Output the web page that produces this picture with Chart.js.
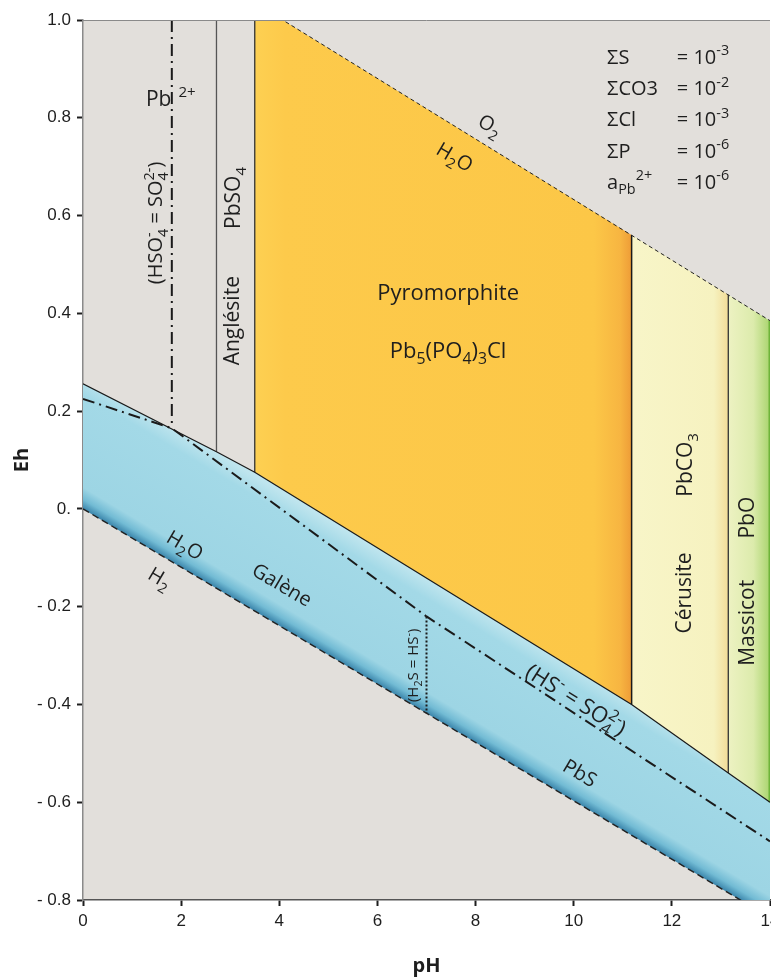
<!DOCTYPE html>
<html>
<head>
<meta charset="utf-8">
<script src="https://cdn.jsdelivr.net/npm/chart.js@4.4.0/dist/chart.umd.min.js"></script>
<style>
  html, body { margin: 0; padding: 0; background: #fff; }
  #wrap { width: 771px; height: 979px; }
</style>
</head>
<body>
<div id="wrap"><canvas id="pourbaix" width="771" height="979"></canvas></div>
<script>
// Axis ticks
const phTicks = [0, 2, 4, 6, 8, 10, 12, 14];
const ehTicks = [-0.8, -0.6, -0.4, -0.2, 0, 0.2, 0.4, 0.6, 0.8, 1.0];
const ehTickLabels = ['- 0.8', '- 0.6', '- 0.4', '- 0.2', '0.', '0.2', '0.4', '0.6', '0.8', '1.0'];

// Water stability limits
const o2PH = [0, 14];
const o2Eh = [1.252, 0.385];
const h2PH = [0, 14];
const h2Eh = [0, -0.836];

// Upper limit of galena (PbS)
const galenaPH = [0, 2.72, 3.5, 11.18, 13.15, 14];
const galenaEh = [0.256, 0.117, 0.075, -0.40, -0.54, -0.60];

// Stability fields
const pyroPH = [3.5, 3.5, 11.18, 11.18];
const pyroEh = [0.075, 1.035, 0.560, -0.40];
const cerusPH = [11.18, 11.18, 13.15, 13.15];
const cerusEh = [-0.40, 0.560, 0.438, -0.54];
const massPH = [13.15, 13.15, 14, 14];
const massEh = [-0.54, 0.438, 0.385, -0.60];

// Vertical boundaries
const angLeftPH = [2.72, 2.72];
const angLeftEh = [1.0, 0.117];
const angRightPH = [3.5, 3.5];
const angRightEh = [1.0, 0.075];
const cerusLinePH = [11.18, 11.18];
const cerusLineEh = [0.560, -0.40];
const massLinePH = [13.15, 13.15];
const massLineEh = [0.438, -0.54];
const edgePH = [14, 14];
const edgeEh = [0.385, -0.60];

// Sulfur species boundaries
const hso4PH = [1.81, 1.81];
const hso4Eh = [1.0, 0.175];
const sulfPH = [0, 1.81, 7.0, 14];
const sulfEh = [0.225, 0.165, -0.22, -0.68];
const h2sPH = [7.0, 7.0];
const h2sEh = [-0.22, -0.418];

// Conditions box
const sumLabels = ['\u03A3S', '\u03A3CO3', '\u03A3Cl', '\u03A3P', 'a_{Pb}\u200b^{2+}'];
const sumValues = ['= 10^{-3}', '= 10^{-2}', '= 10^{-3}', '= 10^{-6}', '= 10^{-6}'];

function pts(xs, ys) {
    return xs.map((x, i) => ({ x: x, y: ys[i] }));
}
function closed(xs, ys) {
    const p = pts(xs, ys);
    p.push(p[0]);
    return p;
}

function lineSet(xs, ys, color, width, dash) {
    return {
        data: pts(xs, ys),
        showLine: true,
        borderColor: color,
        borderWidth: width,
        borderDash: dash || [],
        pointRadius: 0,
        fill: false,
        order: 1
    };
}

function fieldSet(data, color) {
    return {
        data: data,
        showLine: true,
        borderWidth: 0,
        borderColor: 'rgba(0,0,0,0)',
        backgroundColor: color,
        pointRadius: 0,
        fill: 'shape',
        order: 10
    };
}

// Blue band shading (perpendicular to the water lines)
function galenaFill(context) {
    const chart = context.chart;
    const { chartArea, scales } = chart;
    if (!chartArea) return '#a2d8e6';
    const x = scales.x, y = scales.y;
    const dx = x.getPixelForValue(14) - x.getPixelForValue(0);
    const dy = y.getPixelForValue(-0.836) - y.getPixelForValue(0);
    const L = Math.hypot(dx, dy);
    const x0 = x.getPixelForValue(7), y0 = y.getPixelForValue(-0.418);
    const y1 = y.getPixelForValue(-0.142);
    const d = (y0 - y1) * dx / L;
    const g = chart.ctx.createLinearGradient(x0, y0, x0 + d * dy / L, y0 - d * dx / L);
    g.addColorStop(0, '#3a84aa');
    g.addColorStop(0.07, '#72bbd4');
    g.addColorStop(0.16, '#9dd5e4');
    g.addColorStop(0.85, '#a3d9e7');
    g.addColorStop(1, '#bfe5ee');
    return g;
}

function hGradient(context, pa, pb, stops, fallback) {
    const chart = context.chart;
    if (!chart.chartArea) return fallback;
    const x = chart.scales.x;
    const g = chart.ctx.createLinearGradient(x.getPixelForValue(pa), 0, x.getPixelForValue(pb), 0);
    stops.forEach(s => g.addColorStop(s[0], s[1]));
    return g;
}

// Rich text: _{sub} and ^{sup}
function parseRich(str) {
    const out = [];
    const re = /([_^])\{([^}]*)\}|([^_^]+)/g;
    let m;
    while ((m = re.exec(str)) !== null) {
        if (m[3] !== undefined) out.push({ t: m[3], k: '' });
        else out.push({ t: m[2], k: m[1] === '_' ? 'sub' : 'sup' });
    }
    return out;
}

function layoutRich(ctx, segs, size, family) {
    let xPos = 0, maxX = 0, subStart = null, subEnd = 0;
    const placed = [];
    segs.forEach((s, i) => {
        const fs = s.k ? size * 0.72 : size;
        ctx.font = fs + 'px ' + family;
        const w = ctx.measureText(s.t).width;
        let sx = xPos;
        const stacked = s.k === 'sup' && i > 0 && segs[i - 1].k === 'sub';
        if (stacked) sx = subStart;
        placed.push({ t: s.t, k: s.k, fs: fs, x: sx });
        if (s.k === 'sub') { subStart = sx; subEnd = sx + w; }
        xPos = stacked ? Math.max(sx + w, subEnd) : sx + w;
        maxX = Math.max(maxX, xPos);
    });
    return { placed: placed, width: maxX };
}

function drawRich(ctx, str, px, py, angle, size, align, family) {
    const segs = parseRich(str);
    ctx.save();
    ctx.translate(px, py);
    ctx.rotate(angle * Math.PI / 180);
    const lay = layoutRich(ctx, segs, size, family);
    const off = align === 'left' ? 0 : -lay.width / 2;
    const base = size * 0.35;
    ctx.textBaseline = 'alphabetic';
    ctx.textAlign = 'left';
    ctx.fillStyle = '#1e1e1e';
    lay.placed.forEach(p => {
        ctx.font = p.fs + 'px ' + family;
        let by = base;
        if (p.k === 'sub') by = base + size * 0.28;
        if (p.k === 'sup') by = base - size * 0.42;
        ctx.fillText(p.t, off + p.x, by);
    });
    ctx.restore();
}

const labelFont = '"Open Sans", "Noto Sans", sans-serif';

// Field names and boundary notes (pH, Eh, angle, size)
const notes = [
    { t: 'Pb\u2009\u2009^{2+}', x: 1.79, y: 0.84, a: 0, s: 21 },
    { t: '(HSO_{4}^{-} = SO_{4}^{2-})', x: 1.47, y: 0.585, a: -90, s: 20 },
    { t: 'PbSO_{4}', x: 3.05, y: 0.636, a: -90, s: 21 },
    { t: 'Angl\u00e9site', x: 3.03, y: 0.385, a: -90, s: 21 },
    { t: 'Pyromorphite', x: 7.44, y: 0.444, a: 0, s: 22 },
    { t: 'Pb_{5}(PO_{4})_{3}Cl', x: 7.44, y: 0.325, a: 0, s: 22 },
    { t: 'O_{2}', x: 8.3, y: 0.785, a: 30.5, s: 20 },
    { t: 'H_{2}O', x: 7.58, y: 0.72, a: 30.5, s: 20 },
    { t: 'H_{2}O', x: 2.08, y: -0.074, a: 30.5, s: 20 },
    { t: 'H_{2}', x: 1.57, y: -0.141, a: 30.5, s: 20 },
    { t: 'Gal\u00e8ne', x: 4.06, y: -0.155, a: 30.5, s: 20 },
    { t: '(H_{2}S = HS^{-})', x: 6.72, y: -0.32, a: -90, s: 15 },
    { t: '(HS^{-} = SO_{4}^{2-})', x: 10.05, y: -0.39, a: 32.5, s: 22 },
    { t: 'PbS', x: 10.13, y: -0.54, a: 30.5, s: 20 },
    { t: 'PbCO_{3}', x: 12.27, y: 0.09, a: -90, s: 21 },
    { t: 'C\u00e9rusite', x: 12.24, y: -0.172, a: -90, s: 21 },
    { t: 'PbO', x: 13.53, y: -0.018, a: -90, s: 21 },
    { t: 'Massicot', x: 13.53, y: -0.233, a: -90, s: 21 }
];
const sumRowsEh = [0.925, 0.861, 0.797, 0.733, 0.669];

const notesPlugin = {
    id: 'notes',
    beforeDraw(chart) {
        const { ctx, chartArea: a } = chart;
        ctx.save();
        ctx.fillStyle = '#e2dfdb';
        ctx.fillRect(a.left, a.top, a.right - a.left, a.bottom - a.top);
        ctx.restore();
    },
    afterDatasetsDraw(chart) {
        const { ctx, chartArea: a, scales } = chart;
        const X = v => scales.x.getPixelForValue(v);
        const Y = v => scales.y.getPixelForValue(v);
        ctx.save();
        // frame top
        ctx.strokeStyle = '#8a8a8a';
        ctx.lineWidth = 1;
        ctx.beginPath();
        ctx.moveTo(a.left, a.top + 0.5);
        ctx.lineTo(a.right, a.top + 0.5);
        ctx.stroke();
        notes.forEach(n => drawRich(ctx, n.t, X(n.x), Y(n.y), n.a, n.s, 'center', labelFont));
        sumLabels.forEach((t, i) => {
            drawRich(ctx, t, X(10.68), Y(sumRowsEh[i]), 0, 20, 'left', labelFont);
            drawRich(ctx, sumValues[i], X(12.1), Y(sumRowsEh[i]), 0, 20, 'left', labelFont);
        });
        ctx.restore();
    }
};

const tickFont = { family: '"Liberation Sans Narrow", "Liberation Sans", sans-serif', size: 17 };

new Chart(document.getElementById('pourbaix'), {
    type: 'scatter',
    data: {
        datasets: [
            lineSet(o2PH, o2Eh, '#222', 1, [4, 3]),
            lineSet(h2PH, h2Eh, '#222', 1.4, [7, 4]),
            lineSet(galenaPH, galenaEh, '#1a1a1a', 1.2),
            lineSet(angLeftPH, angLeftEh, '#555', 1.3),
            lineSet(angRightPH, angRightEh, '#333', 1.3),
            lineSet(cerusLinePH, cerusLineEh, '#1a1a1a', 1.5),
            lineSet(massLinePH, massLineEh, '#333', 1.3),
            lineSet(hso4PH, hso4Eh, '#1a1a1a', 2, [12, 5, 2, 5]),
            lineSet(sulfPH, sulfEh, '#1a1a1a', 2, [12, 5, 2, 5]),
            lineSet(h2sPH, h2sEh, '#1a1a1a', 2, [2, 2]),
            lineSet(edgePH, edgeEh, '#6fb43a', 3),
            fieldSet(closed(galenaPH.concat(h2PH.slice().reverse()), galenaEh.concat(h2Eh.slice().reverse())), galenaFill),
            fieldSet(closed(pyroPH, pyroEh), ctx => hGradient(ctx, 3.5, 11.18,
                [[0, '#fdd052'], [0.08, '#fdca4b'], [0.9, '#fcc747'], [0.97, '#f7b541'], [1, '#ee9c37']], '#fcc94a')),
            fieldSet(closed(cerusPH, cerusEh), ctx => hGradient(ctx, 11.18, 13.15,
                [[0, '#f8f5c8'], [0.85, '#f6f2c0'], [1, '#f2dc98']], '#f6f3c3')),
            fieldSet(closed(massPH, massEh), ctx => hGradient(ctx, 13.15, 14,
                [[0, '#edf2c2'], [0.6, '#dcebac'], [1, '#a9d46e']], '#e2edb4'))
        ]
    },
    options: {
        responsive: false,
        animation: false,
        layout: { padding: { top: 20, right: 1, left: 0, bottom: 0 } },
        plugins: {
            legend: { display: false },
            tooltip: { enabled: false }
        },
        scales: {
            x: {
                type: 'linear',
                min: 0,
                max: 14,
                afterBuildTicks: s => { s.ticks = phTicks.map(v => ({ value: v })); },
                afterFit: s => { s.height = 79; s.paddingRight = 0; s.paddingLeft = 0; },
                ticks: { color: '#1e1e1e', font: tickFont, padding: 5, maxRotation: 0, autoSkip: false },
                grid: { drawOnChartArea: false, drawTicks: true, tickLength: 6, tickColor: '#1e1e1e', tickWidth: 2 },
                border: { display: true, color: '#555', width: 1.5 },
                title: {
                    display: true, text: 'pH', color: '#1e1e1e',
                    font: { family: '"Open Sans", sans-serif', size: 20, weight: 'bold' },
                    padding: { top: 0, bottom: 1 }
                }
            },
            y: {
                type: 'linear',
                min: -0.8,
                max: 1.0,
                afterBuildTicks: s => { s.ticks = ehTicks.map(v => ({ value: v })); },
                afterFit: s => { s.width = 83; s.paddingTop = 0; s.paddingBottom = 0; },
                ticks: {
                    color: '#1e1e1e', font: tickFont, padding: 6, autoSkip: false,
                    callback: (v, i) => ehTickLabels[i]
                },
                grid: { drawOnChartArea: false, drawTicks: true, tickLength: 6, tickColor: '#1e1e1e', tickWidth: 2 },
                border: { display: true, color: '#8a8a8a', width: 1.5 },
                title: {
                    display: true, text: 'Eh', color: '#1e1e1e',
                    font: { family: '"Open Sans", sans-serif', size: 20, weight: 'bold' },
                    padding: { top: 10, bottom: 0 }
                }
            }
        }
    },
    plugins: [notesPlugin]
});
</script>
</body>
</html>
